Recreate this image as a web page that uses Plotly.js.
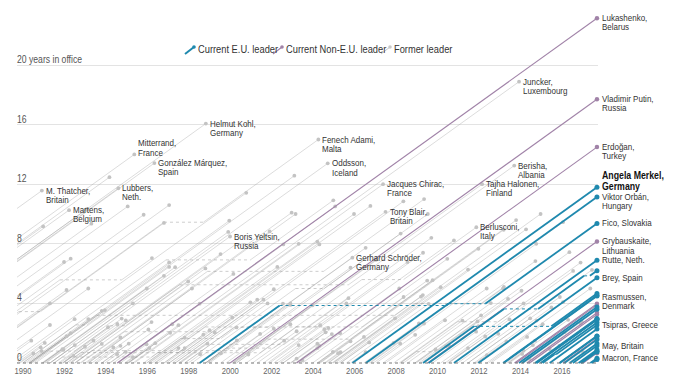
<!DOCTYPE html>
<html>
<head>
<meta charset="utf-8">
<script src="https://cdn.plot.ly/plotly-3.0.1.min.js"></script>
<style>html,body{margin:0;padding:0;background:#fff;}#chart{width:680px;height:389px;}</style>
</head>
<body>
<div id="chart"></div>
<script>
// ---------------- DATA ----------------
// date of the snapshot (decimal year)
const asOf = 2017.69;

// each leader: [name, start1, end1, start2, end2, ...]; current leaders omit the final end
const formerLeaders = [
 ["M. Thatcher", 1979.34, 1990.91], ["Major", 1990.91, 1997.34], ["Tony Blair", 1997.34, 2007.49],
 ["Brown", 2007.49, 2010.36], ["Cameron", 2010.36, 2016.54],
 ["Mitterrand", 1981.37, 1995.37], ["Jacques Chirac", 1995.37, 2007.37], ["Sarkozy", 2007.37, 2012.37],
 ["Hollande", 2012.37, 2017.37],
 ["Helmut Kohl", 1982.75, 1998.82], ["Gerhard Schröder", 1998.82, 2005.89],
 ["Andreotti", 1989.55, 1992.49], ["Amato", 1992.49, 1993.32, 2000.32, 2001.44], ["Ciampi", 1993.32, 1994.36],
 ["Berlusconi", 1994.36, 1995.05, 2001.44, 2006.35, 2008.36, 2011.87], ["Dini", 1995.05, 1996.38],
 ["Prodi", 1996.38, 1998.8, 2006.35, 2008.36], ["D'Alema", 1998.8, 2000.32], ["Monti", 2011.87, 2013.32],
 ["Letta", 2013.32, 2014.15], ["Renzi", 2014.15, 2016.95],
 ["González Márquez", 1982.92, 1996.34], ["Aznar", 1996.34, 2004.3], ["Zapatero", 2004.3, 2011.97],
 ["Lubbers", 1982.87, 1994.6], ["Kok", 1994.6, 2002.56], ["Balkenende", 2002.56, 2010.79],
 ["Martens", 1981.96, 1992.22], ["Dehaene", 1992.22, 1999.53], ["Verhofstadt", 1999.53, 2008.22],
 ["Leterme", 2008.22, 2008.98, 2009.9, 2011.93], ["Van Rompuy", 2008.98, 2009.9], ["Di Rupo", 2011.93, 2014.78],
 ["Santer", 1984.54, 1995.05], ["Juncker", 1995.05, 2013.93],
 ["Schlüter", 1982.75, 1993.07], ["Nyrup Rasmussen", 1993.07, 2001.9], ["Fogh Rasmussen", 2001.9, 2009.3],
 ["Thorning-Schmidt", 2011.76, 2015.49],
 ["Carlsson", 1986.2, 1991.78, 1994.76, 1996.22], ["Bildt", 1991.78, 1994.76], ["Persson", 1996.22, 2006.76],
 ["Reinfeldt", 2006.76, 2014.76],
 ["Koivisto", 1981.7, 1994.17], ["Ahtisaari", 1994.17, 2000.15], ["Tajha Halonen", 2000.15, 2012.15],
 ["Holkeri", 1987.3, 1991.3], ["Aho", 1991.3, 1995.3], ["Lipponen", 1995.3, 2003.3], ["Jäätteenmäki", 2003.3, 2003.48],
 ["Vanhanen", 2003.48, 2010.47], ["Kiviniemi", 2010.47, 2011.47], ["Katainen", 2011.47, 2014.47], ["Stubb", 2014.47, 2015.41],
 ["Cavaco Silva", 1985.87, 1995.82], ["Guterres", 1995.82, 2002.27], ["Durão Barroso", 2002.27, 2004.54],
 ["Santana Lopes", 2004.54, 2005.2], ["Sócrates", 2005.2, 2011.47], ["Passos Coelho", 2011.47, 2015.9],
 ["Haughey", 1987.2, 1992.1], ["Reynolds", 1992.1, 1994.96], ["Bruton", 1994.96, 1997.5], ["Ahern", 1997.5, 2008.35],
 ["Cowen", 2008.35, 2011.2], ["Kenny", 2011.2, 2017.45],
 ["Mitsotakis", 1990.3, 1993.8], ["A. Papandreou", 1993.8, 1996.05], ["Simitis", 1996.05, 2004.2],
 ["Karamanlis", 2004.2, 2009.76], ["G. Papandreou", 2009.76, 2011.86], ["Papademos", 2011.86, 2012.38],
 ["Samaras", 2012.47, 2015.07],
 ["Vranitzky", 1986.45, 1997.05], ["Klima", 1997.05, 2000.1], ["Schüssel", 2000.1, 2007.03],
 ["Gusenbauer", 2007.03, 2008.92], ["Faymann", 2008.92, 2016.36],
 ["Vassiliou", 1988.15, 1993.15], ["Clerides", 1993.15, 2003.15], ["Papadopoulos", 2003.15, 2008.15],
 ["Christofias", 2008.15, 2013.16],
 ["Fenech Adami", 1987.35, 1996.8, 1998.7, 2004.25], ["Sant", 1996.8, 1998.7], ["Gonzi", 2004.25, 2013.19],
 ["Jaruzelski", 1981.8, 1990.97], ["Mazowiecki", 1989.7, 1991.05], ["Bielecki", 1991.05, 1991.95],
 ["Olszewski", 1991.95, 1992.43], ["Suchocka", 1992.52, 1993.8], ["Pawlak", 1993.8, 1995.1],
 ["Oleksy", 1995.1, 1996.1], ["Cimoszewicz", 1996.1, 1997.8], ["Buzek", 1997.8, 2001.8], ["Miller", 2001.8, 2004.34],
 ["Belka", 2004.34, 2005.8], ["Marcinkiewicz", 2005.8, 2006.53], ["J. Kaczyński", 2006.53, 2007.88],
 ["Tusk", 2007.88, 2014.72], ["Kopacz", 2014.72, 2015.88], ["Wałęsa", 1990.97, 1995.97],
 ["Kwaśniewski", 1995.97, 2005.97],
 ["Havel", 1989.99, 1992.55, 1993.08, 2003.09], ["Klaus", 1992.5, 1997.97], ["Tošovský", 1997.97, 1998.55],
 ["Zeman", 1998.55, 2002.54], ["Špidla", 2002.54, 2004.6], ["Gross", 2004.6, 2005.32], ["Paroubek", 2005.32, 2006.7],
 ["Topolánek", 2006.7, 2009.35], ["Fischer", 2009.35, 2010.54], ["Nečas", 2010.54, 2013.47], ["Rusnok", 2013.47, 2014.08],
 ["Mečiar", 1990.5, 1991.3, 1992.5, 1994.2, 1994.95, 1998.8], ["Čarnogurský", 1991.3, 1992.5],
 ["Moravčík", 1994.2, 1994.95], ["Dzurinda", 1998.8, 2006.53], ["Radičová", 2010.52, 2012.3],
 ["Németh", 1988.9, 1990.4], ["Antall", 1990.4, 1993.95], ["Boross", 1993.95, 1994.54], ["Horn", 1994.54, 1998.52],
 ["Medgyessy", 2002.38, 2004.73], ["Gyurcsány", 2004.73, 2009.29], ["Bajnai", 2009.29, 2010.41],
 ["Peterle", 1990.3, 1992.3], ["Drnovšek", 1992.3, 2000.3, 2000.87, 2002.96], ["Bajuk", 2000.3, 2000.87],
 ["Rop", 2002.96, 2004.9], ["Janša", 2004.9, 2008.9, 2012.1, 2013.2], ["Pahor", 2008.9, 2012.1],
 ["Bratušek", 2013.2, 2014.7],
 ["Tuđman", 1990.4, 1999.95], ["Račan", 2000.1, 2003.97], ["Sanader", 2003.97, 2009.5], ["Kosor", 2009.5, 2011.97],
 ["Milanović", 2011.97, 2016.05], ["Orešković", 2016.05, 2016.8],
 ["Iliescu", 1989.98, 1996.9, 2000.97, 2004.97], ["Constantinescu", 1996.9, 2000.97], ["Băsescu", 2004.97, 2014.97],
 ["Mladenov", 1989.86, 1990.5], ["Zhelev", 1990.6, 1997.05], ["Lukanov", 1990.1, 1990.9], ["Popov", 1990.97, 1991.9],
 ["Dimitrov", 1991.9, 1992.99], ["Berov", 1992.99, 1994.7], ["Videnov", 1995.07, 1997.1], ["Kostov", 1997.35, 2001.6],
 ["Saxe-Coburg", 2001.6, 2005.6], ["Stanishev", 2005.6, 2009.57], ["Oresharski", 2013.4, 2014.6],
 ["Savisaar", 1990.3, 1992.1], ["Vähi", 1992.1, 1992.8, 1995.3, 1997.2], ["Laar", 1992.8, 1994.9, 1999.25, 2002.1],
 ["Tarand", 1994.9, 1995.3], ["Siimann", 1997.2, 1999.25], ["Kallas", 2002.1, 2003.3], ["Parts", 2003.3, 2005.3],
 ["Ansip", 2005.3, 2014.27], ["Rõivas", 2014.27, 2016.9],
 ["Godmanis", 1990.35, 1993.55, 2007.95, 2009.2], ["Birkavs", 1993.55, 1994.7], ["Gailis", 1994.7, 1995.96],
 ["Šķēle", 1995.96, 1997.6, 1999.55, 2000.3], ["Krasts", 1997.6, 1998.9], ["Krištopans", 1998.9, 1999.55],
 ["Bērziņš", 2000.3, 2002.9], ["Repše", 2002.9, 2004.2], ["Emsis", 2004.2, 2004.95], ["Kalvītis", 2004.95, 2007.95],
 ["Dombrovskis", 2009.2, 2014.05], ["Straujuma", 2014.05, 2016.12],
 ["Landsbergis", 1990.2, 1993.15], ["Brazauskas", 1993.15, 1998.15], ["Adamkus", 1998.15, 2003.15, 2004.53, 2009.53],
 ["Paksas", 2003.15, 2004.3],
 ["Hermannsson", 1988.75, 1991.3], ["Oddsson", 1991.3, 2004.7], ["Ásgrímsson", 2004.7, 2006.45],
 ["Haarde", 2006.45, 2009.1], ["Sigurðardóttir", 2009.1, 2013.4], ["Gunnlaugsson", 2013.4, 2016.3],
 ["Jóhannsson", 2016.3, 2017.03],
 ["Syse", 1989.8, 1990.85], ["Brundtland", 1986.35, 1989.8, 1990.85, 1996.8], ["Jagland", 1996.8, 1997.8],
 ["Bondevik", 1997.8, 2000.2, 2001.8, 2005.8], ["Stoltenberg", 2000.2, 2001.8, 2005.8, 2013.79],
 ["Gorbachev", 1985.2, 1991.98], ["Boris Yeltsin", 1991.5, 1999.99],
 ["Kravchuk", 1991.93, 1994.55], ["Kuchma", 1994.55, 2005.06], ["Yushchenko", 2005.06, 2010.15],
 ["Yanukovych", 2010.15, 2014.15], ["Turchynov", 2014.15, 2014.43],
 ["Shushkevich", 1991.7, 1994.1],
 ["Snegur", 1990.3, 1997.05], ["Lucinschi", 1997.05, 2001.3], ["Voronin", 2001.3, 2009.7],
 ["Özal", 1983.95, 1993.3], ["Yılmaz", 1991.5, 1991.9, 1996.2, 1996.5, 1997.5, 1999.0], ["Demirel", 1991.9, 1993.4],
 ["Çiller", 1993.45, 1996.2], ["Erbakan", 1996.5, 1997.5], ["Ecevit", 1999.0, 2002.9], ["Gül", 2002.9, 2003.2],
 ["Alia", 1985.3, 1992.3], ["Berisha", 1992.3, 1997.55, 2005.7, 2013.7], ["Nano", 1997.55, 1998.8, 2002.6, 2005.7],
 ["Majko", 1998.8, 1999.8, 2002.1, 2002.6], ["Meta", 1999.8, 2002.1],
 ["Milošević", 1989.35, 2000.77], ["Koštunica", 2000.77, 2003.2, 2004.2, 2008.55], ["Đinđić", 2001.07, 2003.2],
 ["Živković", 2003.2, 2004.2], ["Cvetković", 2008.55, 2012.57], ["Dačić", 2012.57, 2014.32],
 ["Šturanović", 2006.9, 2008.2], ["Đukanović", 2008.2, 2010.97, 2012.93, 2016.9], ["Lukšić", 2010.97, 2012.93],
 ["Gligorov", 1991.1, 1999.9], ["Crvenkovski", 1992.75, 1998.9, 2004.5, 2009.35], ["Georgievski", 1998.9, 2002.9],
 ["Gruevski", 2006.6, 2016.05],
 ["Izetbegović", 1990.95, 1996.8]
];

const currentEU = [
 ["Angela Merkel", 2005.89], ["Viktor Orbán", 1998.52, 2002.38, 2010.41], ["Fico", 2006.54, 2010.52, 2012.3],
 ["Rutte", 2010.79], ["Brey", 2011.97], ["Borissov", 2009.57, 2013.2, 2014.85, 2017.07, 2017.35],
 ["Rasmussen", 2009.3, 2011.76, 2015.49], ["Muscat", 2013.19], ["Anastasiades", 2013.16], ["Bettel", 2013.93],
 ["Sobotka", 2014.08], ["Cerar", 2014.7], ["Michel", 2014.78], ["Löfven", 2014.76], ["Iohannis", 2014.97],
 ["Tsipras", 2015.07, 2015.65, 2015.72], ["Sipilä", 2015.41], ["Costa", 2015.9], ["Szydło", 2015.88],
 ["Kučinskis", 2016.12], ["Kern", 2016.38], ["May", 2016.53], ["Plenković", 2016.8], ["Ratas", 2016.9],
 ["Gentiloni", 2016.95], ["Macron", 2017.37], ["Varadkar", 2017.45]
];

const currentNonEU = [
 ["Lukashenko", 1994.55], ["Vladimir Putin", 1999.99], ["Erdoğan", 2003.2], ["Grybauskaite", 2009.53],
 ["Rama", 2013.71], ["Solberg", 2013.79], ["Vučić", 2014.32], ["Poroshenko", 2014.43], ["Filip", 2016.05],
 ["Marković", 2016.9], ["Benediktsson", 2017.03], ["Zaev", 2017.45]
];

// labels (leader name -> label text lines)
const labelNames = ["M. Thatcher", "Martens", "Lubbers", "Mitterrand", "González Márquez", "Helmut Kohl",
 "Boris Yeltsin", "Fenech Adami", "Oddsson", "Jacques Chirac", "Tony Blair", "Gerhard Schröder",
 "Berlusconi", "Tajha Halonen", "Berisha", "Juncker",
 "Lukashenko", "Vladimir Putin", "Erdoğan", "Angela Merkel", "Viktor Orbán", "Fico", "Grybauskaite",
 "Rutte", "Brey", "Rasmussen", "Tsipras", "May", "Macron"];
const labelTexts = [["M. Thatcher,", "Britain"], ["Martens,", "Belgium"], ["Lubbers,", "Neth."],
 ["Mitterrand,", "France"], ["González Márquez,", "Spain"], ["Helmut Kohl,", "Germany"],
 ["Boris Yeltsin,", "Russia"], ["Fenech Adami,", "Malta"], ["Oddsson,", "Iceland"],
 ["Jacques Chirac,", "France"], ["Tony Blair,", "Britain"], ["Gerhard Schröder,", "Germany"],
 ["Berlusconi,", "Italy"], ["Tajha Halonen,", "Finland"], ["Berisha,", "Albania"], ["Juncker,", "Luxembourg"],
 ["Lukashenko,", "Belarus"], ["Vladimir Putin,", "Russia"], ["Erdoğan,", "Turkey"],
 ["Angela Merkel,", "Germany"], ["Viktor Orbán,", "Hungary"], ["Fico, Slovakia"], ["Grybauskaite,", "Lithuania"],
 ["Rutte, Neth."], ["Brey, Spain"], ["Rasmussen,", "Denmark"], ["Tsipras, Greece"], ["May, Britain"],
 ["Macron, France"]];

const yTickVals = [0, 4, 8, 12, 16, 20];
const yTickText = ["0", "4", "8", "12", "16", "20 years in office"];
const xTickVals = [1990, 1992, 1994, 1996, 1998, 2000, 2002, 2004, 2006, 2008, 2010, 2012, 2014, 2016];

const legendItems = ["Current E.U. leader", "Current Non-E.U. leader", "Former leader"];

// ---------------- STYLE ----------------
const FONT = "'Liberation Sans', Arial, sans-serif";
const TEAL = "#1f89ae", PURPLE = "#a183a8", GRAY = "rgba(150,150,150,0.42)", GRAYDOT = "#c3c3c3";
const labelFirstOffset = {"Mitterrand": -11, "Angela Merkel": -11.5, "Rasmussen": 3.5};
const LINE_GAP = 9.2, BOLD_GAP = 10.8;
// horizontal condensing of text (reference uses a narrow typeface)
const SQUEEZE_LABEL = 0.86, SQUEEZE_LEGEND = 0.93, SQUEEZE_YLAB = 0.83, SQUEEZE_XTICK = 0.82;

// ---------------- BUILD ----------------
function segs(leader) {
  const t = leader.slice(1);
  const solid = [], gaps = [];
  let acc = 0, prevEnd = null;
  for (let i = 0; i < t.length; i += 2) {
    const s = t[i];
    const e = (i + 1 < t.length) ? t[i + 1] : asOf;
    if (prevEnd !== null) gaps.push([prevEnd, acc, s, acc]);
    solid.push([s, acc, e, acc + (e - s)]);
    acc += e - s;
    prevEnd = e;
  }
  return {solid, gaps, end: [prevEnd, acc]};
}
function collect(list) {
  const L = {x: [], y: []}, G = {x: [], y: []}, E = {x: [], y: []}, ends = {};
  list.forEach(ld => {
    const s = segs(ld);
    s.solid.forEach(a => { L.x.push(a[0], a[2], null); L.y.push(a[1], a[3], null); });
    s.gaps.forEach(a => { G.x.push(a[0], a[2], null); G.y.push(a[1], a[3], null); });
    E.x.push(s.end[0]); E.y.push(s.end[1]);
    ends[ld[0]] = s.end;
  });
  return {L, G, E, ends};
}
const fo = collect(formerLeaders), eu = collect(currentEU), ne = collect(currentNonEU);

function lineTrace(d, color, width, dash) {
  return {type: "scatter", mode: "lines", x: d.x, y: d.y, hoverinfo: "skip",
    line: {color: color, width: width, dash: dash || "solid"}, showlegend: false};
}
function dotTrace(d, color, size) {
  return {type: "scatter", mode: "markers", x: d.x, y: d.y, hoverinfo: "skip", cliponaxis: false,
    marker: {color: color, size: size, line: {width: 0}}, showlegend: false};
}
const traces = [
  lineTrace(fo.L, GRAY, 0.8),
  lineTrace(fo.G, "rgba(140,140,140,0.55)", 0.8, "dot"),
  dotTrace(fo.E, GRAYDOT, 3.8),
  lineTrace(ne.L, PURPLE, 1.1),
  lineTrace(ne.G, PURPLE, 1, "dot"),
  dotTrace(ne.E, PURPLE, 4.5),
  lineTrace(eu.L, TEAL, 1.8),
  lineTrace(eu.G, TEAL, 1, "dot"),
  dotTrace(eu.E, TEAL, 5)
];

const allEnds = Object.assign({}, fo.ends, eu.ends, ne.ends);
const annotations = [], squeeze = [];
labelNames.forEach((nm, i) => {
  const p = allEnds[nm];
  const lines = labelTexts[i];
  const off = labelFirstOffset[nm] || 0;
  const isCurrent = !(nm in fo.ends);
  const bold = nm === "Angela Merkel";
  lines.forEach((txt, j) => {
    annotations.push({x: p[0], y: p[1], xref: "x", yref: "y", text: txt, align: "left",
      showarrow: false, xanchor: "left", yanchor: "middle", xshift: isCurrent ? 3 : 2,
      yshift: -(off + j * (bold ? BOLD_GAP : LINE_GAP)),
      font: {family: FONT, size: bold ? 10.2 : 9.3, color: bold ? "#111" : "#333", weight: bold ? 700 : 400}});
    squeeze.push(SQUEEZE_LABEL);
  });
});
yTickVals.forEach((v, i) => {
  annotations.push({x: 0, xref: "paper", y: v, yref: "y", text: yTickText[i], showarrow: false, align: "left",
    xanchor: "left", yanchor: "bottom", yshift: -2, xshift: -2,
    font: {family: FONT, size: 10.4, color: "#555"}});
  squeeze.push(SQUEEZE_YLAB);
});

// legend (paper coordinates; plot area 581 x 362 px, origin at px (17,364))
const PW = 581, PH = 362, OX = 17, OY = 364;
const px = v => (v - OX) / PW, py = v => (OY - v) / PH;
const legendIconX = [185, 273, 381];
const legendColors = [TEAL, PURPLE, "#c9c9c9"];
const legendWidths = [2, 1.2, 1];
const shapes = [];
legendItems.forEach((txt, i) => {
  const x0 = legendIconX[i];
  shapes.push({type: "line", xref: "paper", yref: "paper", x0: px(x0), y0: py(54), x1: px(x0 + 9), y1: py(47),
    line: {color: legendColors[i], width: legendWidths[i]}});
  shapes.push({type: "circle", xref: "paper", yref: "paper", x0: px(x0 + 9 - 1.8), x1: px(x0 + 9 + 1.8),
    y0: py(47 + 1.8), y1: py(47 - 1.8), fillcolor: legendColors[i], line: {width: 0}});
  annotations.push({x: px(x0 + 11), y: py(49.5), xref: "paper", yref: "paper", text: txt, showarrow: false,
    align: "left", xanchor: "left", yanchor: "middle", font: {family: FONT, size: 10, color: "#333"}});
  squeeze.push(SQUEEZE_LEGEND);
});
shapes.push({type: "line", xref: "paper", yref: "y", x0: 0, x1: 1, y0: 0, y1: 0, layer: "above",
  line: {color: "#777", width: 1, dash: "dot"}});

const layout = {
  width: 680, height: 389,
  margin: {l: 17, r: 82, t: 2, b: 25, pad: 0},
  paper_bgcolor: "#fff", plot_bgcolor: "#fff",
  showlegend: false,
  xaxis: {range: [1989.71, 2017.74], tickvals: xTickVals, ticktext: xTickVals.map(String),
    showgrid: false, zeroline: false, showline: false, ticks: "", ticklen: 0,
    tickfont: {family: FONT, size: 9.4, color: "#666"}, fixedrange: true},
  yaxis: {range: [-0.067, 24.23], tickvals: [4, 8, 12, 16, 20], showticklabels: false,
    showgrid: true, gridcolor: "#e3e3e3", gridwidth: 1, zeroline: false, showline: false, ticks: "", fixedrange: true},
  annotations: annotations,
  shapes: shapes
};

function condense(el, f) {
  const parts = el.querySelectorAll("tspan.line");
  const targets = parts.length ? Array.from(parts) : [el];
  targets.forEach(t => {
    const w = t.getComputedTextLength();
    if (w > 0) { t.setAttribute("textLength", (w * f).toFixed(2)); t.setAttribute("lengthAdjust", "spacingAndGlyphs"); }
  });
}
Plotly.newPlot("chart", traces, layout, {staticPlot: true, displayModeBar: false}).then(gd => {
  gd.querySelectorAll("g.annotation").forEach(g => {
    const idx = +g.getAttribute("data-index");
    const t = g.querySelector("text.annotation-text");
    if (t && squeeze[idx]) condense(t, squeeze[idx]);
  });
  gd.querySelectorAll(".xtick text").forEach(t => condense(t, SQUEEZE_XTICK));
});
</script>
</body>
</html>
